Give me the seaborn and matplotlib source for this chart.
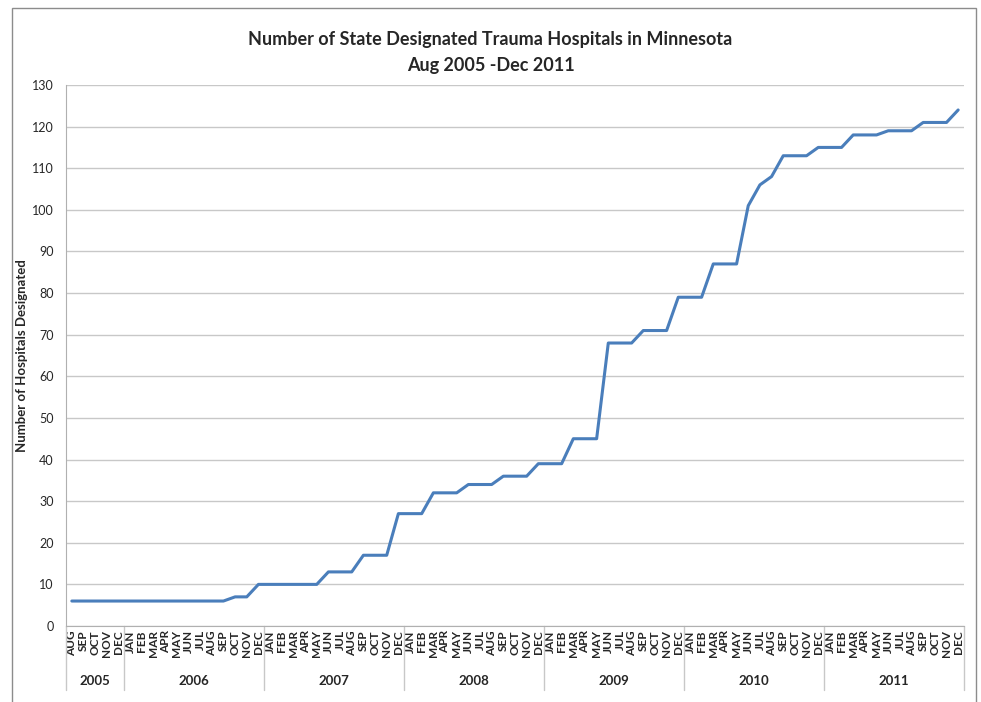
import numpy as np
import pandas as pd
import matplotlib
matplotlib.use("Agg")
import matplotlib.pyplot as plt
import seaborn as sns
from matplotlib.patches import Rectangle

# Monthly counts, Aug 2005 - Dec 2011
years = ["2005", "2006", "2007", "2008", "2009", "2010", "2011"]
month_names = ["JAN", "FEB", "MAR", "APR", "MAY", "JUN",
               "JUL", "AUG", "SEP", "OCT", "NOV", "DEC"]
hosp_2005 = [6, 6, 6, 6, 6]  # Aug-Dec
hosp_2006 = [6, 6, 6, 6, 6, 6, 6, 6, 6, 7, 7, 10]
hosp_2007 = [10, 10, 10, 10, 10, 13, 13, 13, 17, 17, 17, 27]
hosp_2008 = [27, 27, 32, 32, 32, 34, 34, 34, 36, 36, 36, 39]
hosp_2009 = [39, 39, 45, 45, 45, 68, 68, 68, 71, 71, 71, 79]
hosp_2010 = [79, 79, 87, 87, 87, 101, 106, 108, 113, 113, 113, 115]
hosp_2011 = [115, 115, 118, 118, 118, 119, 119, 119, 121, 121, 121, 124]

per_year = [hosp_2005, hosp_2006, hosp_2007, hosp_2008, hosp_2009, hosp_2010, hosp_2011]

rows = []
for yr, vals in zip(years, per_year):
    months = month_names[12 - len(vals):]
    for m, v in zip(months, vals):
        rows.append({"period": f"{yr}-{m}", "year": yr, "month": m, "count": v})
df = pd.DataFrame(rows)

sns.set_style("white")
plt.rcParams["font.family"] = ["Lato", "DejaVu Sans"]

fig = plt.figure(figsize=(9.81, 7.02), dpi=100)
ax = fig.add_axes([66 / 981, 1 - 626 / 702, 898 / 981, 541 / 702])

sns.lineplot(data=df, x="period", y="count", color="#4A7EBB", linewidth=2.2,
             sort=False, ax=ax)

n = len(df)
ax.set_xlim(-0.5, n - 0.5)
ax.set_ylim(0, 130)
ax.set_yticks(np.arange(0, 131, 10))
ax.yaxis.grid(True, color="#C8C8C8", linewidth=1)
ax.tick_params(axis="y", labelsize=9, length=5, color="#A0A0A0", pad=4)

# month labels, separators between categories
ax.set_xticks(np.arange(n))
ax.set_xticklabels(df["month"], rotation=90, fontsize=8.5, fontweight="bold")
ax.tick_params(axis="x", which="major", length=0, pad=3)
ax.set_xticks(np.arange(-0.5, n), minor=True)
ax.tick_params(axis="x", which="minor", length=36, color="#C8C8C8", width=1)
for lbl in ax.get_xticklabels():
    lbl.set_va("top")

# year groups
trans = ax.get_xaxis_transform()
start = 0
bounds = [-0.5]
for yr, vals in zip(years, per_year):
    end = start + len(vals)
    bounds.append(end - 0.5)
    ax.text((start + end - 1) / 2, -0.102, yr, transform=trans, ha="center",
            va="center", fontsize=9.5, fontweight="bold")
    start = end
for b in bounds:
    ax.plot([b, b], [0, -0.118], transform=trans, color="#C8C8C8",
            linewidth=1, clip_on=False)

for side in ["top", "right"]:
    ax.spines[side].set_visible(False)
for side in ["left", "bottom"]:
    ax.spines[side].set_color("#B0B0B0")

ax.set_xlabel("")
ax.set_ylabel("Number of Hospitals Designated", fontsize=9.5, fontweight="bold")
ax.yaxis.set_label_coords(-0.042, 0.5)

fig.text(0.5, 1 - 40 / 702, "Number of State Designated Trauma Hospitals in Minnesota",
         ha="center", va="center", fontsize=13, fontweight="bold")
fig.text(0.5, 1 - 65 / 702, "Aug 2005 -Dec 2011",
         ha="center", va="center", fontsize=13, fontweight="bold")

# outer chart frame
fig.patches.append(Rectangle((12 / 981, -0.01), 964 / 981, 1 - 8 / 702 + 0.01,
                             transform=fig.transFigure, fill=False,
                             edgecolor="#8C8C8C", linewidth=1))

fig.savefig("out.png", dpi=100)
